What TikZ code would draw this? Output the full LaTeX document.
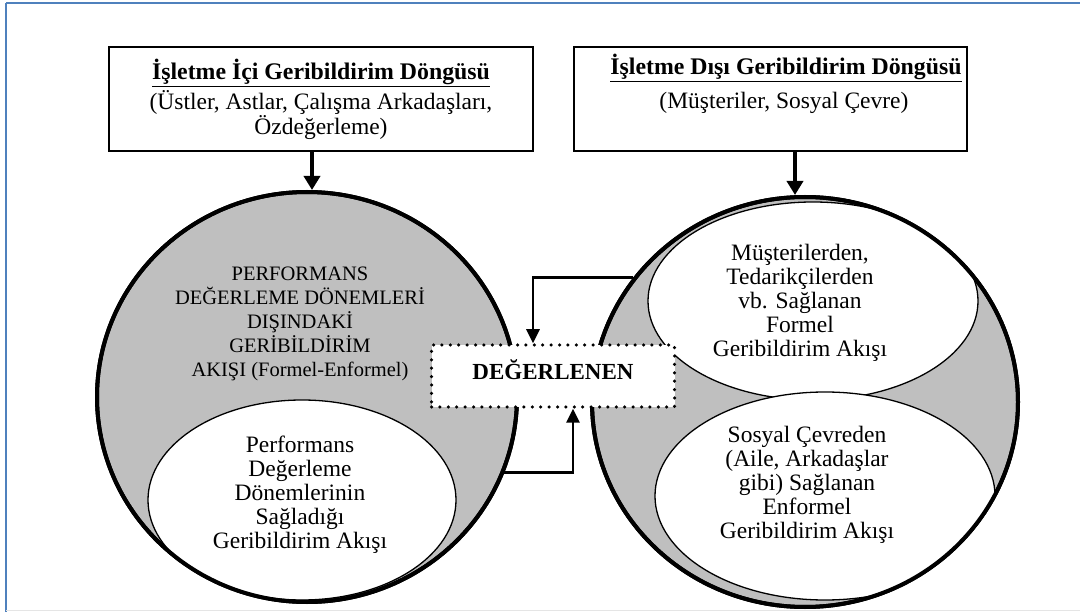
\documentclass[tikz,border=0pt]{standalone}
\usepackage{fontspec}
\setmainfont{Liberation Serif}
\usetikzlibrary{shapes.geometric,arrows.meta,calc}
\definecolor{framblue}{RGB}{79,129,189}
\definecolor{fillgray}{RGB}{191,191,191}
\begin{document}
\begin{tikzpicture}[x=1pt,y=-1pt,
  bigcirc/.style={ellipse, draw, line width=4pt, fill=fillgray, inner sep=0pt},
  wellipse/.style={ellipse, draw, line width=1.3pt, fill=white, inner sep=0pt},
  txt/.style={align=center, inner sep=0pt, font=\fontsize{23.5}{24}\selectfont},
  capstxt/.style={align=center, inner sep=0pt, font=\fontsize{20.5}{24}\selectfont},
  titletxt/.style={align=center, inner sep=0pt, font=\fontsize{23.8}{25}\selectfont\bfseries},
  boxst/.style={draw, line width=1.5pt, fill=white, inner sep=0pt},
  bigarrow/.style={line width=3.5pt, -{Triangle[width=16pt,length=14pt]}},
  fbarrow/.style={line width=2.8pt, -{Triangle[width=13pt,length=14pt]}}]
\useasboundingbox (0,0) rectangle (1080,612);
\fill[white] (0,0) rectangle (1080,612);
\draw[framblue, line width=2pt] (6,3) -- (1080,3);
\draw[framblue, line width=2pt] (6,3) -- (6,612);
\draw[black!10, line width=1pt] (6,610) -- (1080,610);

% top boxes
\node[boxst, minimum width=424pt, minimum height=104pt] (lbox) at (321,99) {};
\node[titletxt] (ltitle) at (321,73) {\underline{İşletme İçi Geribildirim Döngüsü}};
\node[txt] (lsub) at (321,115) {(Üstler, Astlar, Çalışma Arkadaşları,\\Özdeğerleme)};

\node[boxst, minimum width=393pt, minimum height=104pt] (rbox) at (770.5,99) {};
\node[titletxt] (rtitle) at (786,68) {\underline{İşletme Dışı Geribildirim Döngüsü}};
\node[txt] (rsub) at (784,103) {(Müşteriler, Sosyal Çevre)};

% left circle
\node[bigcirc, minimum width=420pt, minimum height=410pt] (lcirc) at (307,397) {};
\begin{scope}
  \clip (307,397) ellipse [x radius=210pt, y radius=205pt];
  \node[wellipse, minimum width=308pt, minimum height=200pt] (linner) at (302,500) {};
\end{scope}
\draw[line width=4pt] (307,397) ellipse [x radius=210pt, y radius=205pt];
\node[capstxt] (ltext) at (300,324) {PERFORMANS\\DEĞERLEME DÖNEMLERİ\\DIŞINDAKİ\\GERİBİLDİRİM\\AKIŞI (Formel-Enformel)};
\node[txt] (lintext) at (300,495) {Performans\\Değerleme\\Dönemlerinin\\Sağladığı\\Geribildirim Akışı};

% right circle
\node[bigcirc, minimum width=426pt, minimum height=410pt] (rcirc) at (805,402) {};
\begin{scope}
  \clip (805,402) ellipse [x radius=213pt, y radius=205pt];
  \node[wellipse, minimum width=330pt, minimum height=198pt] (rup) at (813,301) {};
  \node[wellipse, minimum width=340pt, minimum height=208pt] (rlow) at (825,496) {};
\end{scope}
\draw[line width=4pt] (805,402) ellipse [x radius=213pt, y radius=205pt];
\node[txt] (ruptext) at (800,303) {Müşterilerden,\\Tedarikçilerden\\vb. Sağlanan\\Formel\\Geribildirim Akışı};
\node[txt] (rlowtext) at (807,485) {Sosyal Çevreden\\(Aile, Arkadaşlar\\gibi) Sağlanan\\Enformel\\Geribildirim Akışı};

% evaluated box
\node[draw, line width=3.5pt, dash pattern=on 0pt off 8.4pt, line cap=round, fill=white,
      minimum width=243pt, minimum height=62pt, inner sep=0pt] (deg) at (553,376) {};
\node[titletxt, font=\fontsize{23}{25}\selectfont\bfseries] (degtext) at (553,370) {DEĞERLENEN};

% arrows
\draw[bigarrow] ([xshift=-9pt]lbox.south) -- ([xshift=-9pt]lbox.south |- lcirc.north);
\draw[bigarrow] ([xshift=24.5pt]rbox.south) -- ([xshift=24.5pt]rbox.south |- rcirc.north);
\draw[fbarrow] (rcirc.144) -| ([xshift=-20pt]deg.north);
\draw[fbarrow] (lcirc.-21) -| ([xshift=20pt]deg.south);
\end{tikzpicture}
\end{document}
